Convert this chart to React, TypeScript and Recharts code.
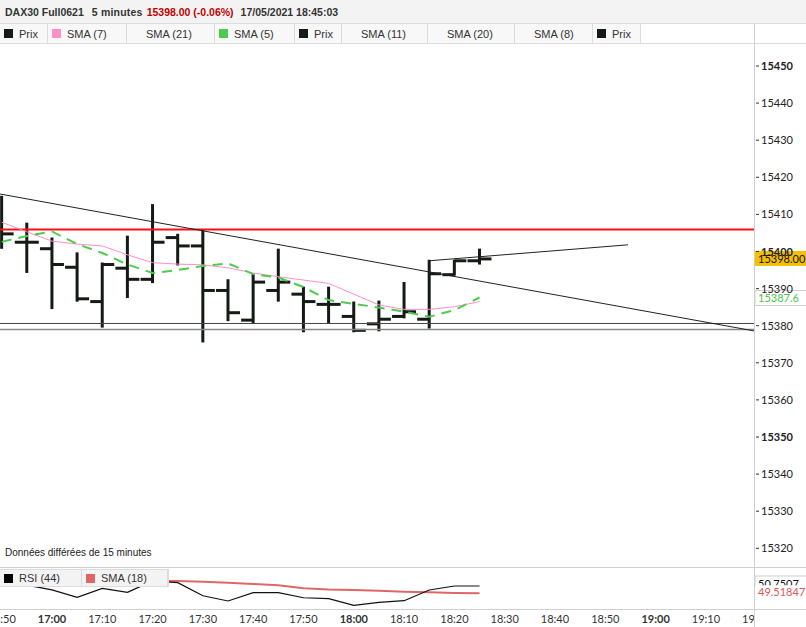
import React from 'react';
import { ComposedChart, Bar, Line, XAxis, YAxis, ReferenceLine } from 'recharts';

// 5-minute bars, DAX30 Full0621
const barTimes = ['16:50', '16:55', '17:00', '17:05', '17:10', '17:15', '17:20', '17:25', '17:30', '17:35', '17:40', '17:45', '17:50', '17:55', '18:00', '18:05', '18:10', '18:15', '18:20', '18:25'];
const opens = [15406, 15402.5, 15400.75, 15395.75, 15386.5, 15395.5, 15392.5, 15403.75, 15401.5, 15389.5, 15381.5, 15389.5, 15388.5, 15385.75, 15382.5, 15380.5, 15382.5, 15381.75, 15393.75, 15397.5];
const highs = [15414.75, 15407.5, 15403.5, 15399.5, 15396.75, 15404, 15412.5, 15404.5, 15405.75, 15392.25, 15393.75, 15400.5, 15390.25, 15390.25, 15386.25, 15386.5, 15391.5, 15397.5, 15397.5, 15400.5];
const lows = [15401, 15394.5, 15384.75, 15386.75, 15379.75, 15387.75, 15391.75, 15396.5, 15375.75, 15381.5, 15380.75, 15386.75, 15378.5, 15380.75, 15378.5, 15378.75, 15382.25, 15379.5, 15393.75, 15396.75];
const closes = [15404.75, 15402.5, 15396.5, 15387.25, 15396.5, 15392.5, 15402.5, 15401.5, 15389.5, 15383.5, 15391.75, 15391.75, 15386.5, 15385.75, 15378.75, 15381.75, 15383.75, 15394, 15397.5, 15398];
const sma7 = [15407.9, 15405.3, 15402.8, 15402.0, 15401.5, 15399.1, 15397.0, 15396.6, 15396.4, 15395.6, 15394.2, 15393.2, 15392.3, 15391.4, 15388.5, 15385.6, 15384.4, 15384.4, 15385.1, 15386.5];
const sma5 = [15402.6, 15404.2, 15405.4, 15402.0, 15399.6, 15396.5, 15394.2, 15395.0, 15396.1, 15396.8, 15393.9, 15393.0, 15390.4, 15386.9, 15385.9, 15384.9, 15383.8, 15382.4, 15384.2, 15387.6];
const rsi44 = [50.9, 50.9, 50.1, 48.84, 50.36, 49.69, 51.6, 51.31, 49.11, 48.22, 49.62, 49.62, 48.77, 48.61, 47.49, 48.0, 48.27, 50.08, 50.75, 50.7507];
const rsiSma18 = [51.72, 51.71, 51.7, 51.69, 51.68, 51.67, 51.65, 51.6, 51.48, 51.31, 51.09, 50.87, 50.36, 50.16, 50.08, 49.96, 49.79, 49.69, 49.57, 49.51847];

const priceTicks = [15320, 15330, 15340, 15350, 15360, 15370, 15380, 15390, 15400, 15410, 15420, 15430, 15440, 15450];
const timeTicks = ['16:50', '17:00', '17:10', '17:20', '17:30', '17:40', '17:50', '18:00', '18:10', '18:20', '18:30', '18:40', '18:50', '19:00', '19:10', '19:20'];

// drawn objects (time, price)
const redLevel = 15405.9;
const supportLevels = [15380.6, 15379.0];
const downTrend = [{ t: '16:49.66', p: 15415.5 }, { t: '19:19.56', p: 15378.6 }];
const upTrend = [{ t: '18:15', p: 15397.5 }, { t: '18:54.5', p: 15401.8 }];

const lastPrice = 15398.0;
const lastSma5 = 15387.6;
const lastRsi = 50.7507;
const lastRsiSma = 49.51847;

const toMin = (s: string) => {
  const [h, m] = s.split(':').map(Number);
  return (h - 16) * 60 + m;
};
const fmtTime = (v: number) => {
  const h = 16 + Math.floor(v / 60);
  const m = Math.round(v % 60);
  return `${h}:${m < 10 ? '0' : ''}${m}`;
};

const xDomain = [toMin('16:49.66'), toMin('19:19.56')];
const priceDomain = [15314.69, 15455.93];
const rsiDomain = [46.87, 53.79];

const data = barTimes.map((t, i) => ({
  t: toMin(t),
  o: opens[i],
  h: highs[i],
  l: lows[i],
  c: closes[i],
  sma7: sma7[i],
  sma5: sma5[i],
  rsi: rsi44[i],
  rsiSma: rsiSma18[i],
}));

const AXIS_FONT = 'Lato, "DejaVu Sans", sans-serif';
const UI_FONT = '"Liberation Sans", Arial, sans-serif';
const BAR_COLOR = '#141a14';

const OhlcShape = (props: any) => {
  const { x, y, width, height, payload } = props;
  if (x == null || y == null) return null;
  const top = Math.min(y, y + height);
  const bottom = Math.max(y, y + height);
  const cx = x + width / 2;
  const { h, l, o, c } = payload;
  const py = (v: number) => (h === l ? top : top + ((bottom - top) * (h - v)) / (h - l));
  return (
    <g stroke={BAR_COLOR} strokeWidth={3}>
      <line x1={cx} x2={cx} y1={top - 1} y2={bottom + 1} />
      <line x1={cx - 12} x2={cx} y1={py(o)} y2={py(o)} />
      <line x1={cx} x2={cx + 12} y1={py(c)} y2={py(c)} />
    </g>
  );
};

const PriceTick = (props: any) => {
  const { x, y, payload } = props;
  const bold = payload.value % 50 === 0;
  return (
    <g>
      <line x1={x + 2} x2={x + 5} y1={y} y2={y} stroke="#333" />
      <text x={x + 7} y={y} dy={4} fontSize={11} fontFamily={AXIS_FONT} fontWeight={bold ? 700 : 400} fill="#222">
        {payload.value}
      </text>
    </g>
  );
};

const TimeTick = (props: any) => {
  const { x, y, payload } = props;
  const label = fmtTime(payload.value);
  const bold = label.endsWith(':00');
  const id = `tclip-${payload.value}`;
  return (
    <g>
      <clipPath id={id}>
        <rect x={0} y={y} width={754} height={20} />
      </clipPath>
      <text x={x} y={y} dy={14} textAnchor="middle" fontSize={11} fontFamily={AXIS_FONT} fontWeight={bold ? 700 : 400} fill="#333" clipPath={`url(#${id})`}>
        {label}
      </text>
    </g>
  );
};

const tag = (text: string, bg: string, color: string, boxDy: number, textDy: number, border?: string) => (props: any) => {
  const vb = props.viewBox || {};
  const left = vb.x + vb.width + 1;
  return (
    <g>
      <rect x={left} y={vb.y + boxDy} width={52} height={15} fill={bg} stroke={border || 'none'} />
      <text x={left + 3} y={vb.y + textDy} fontSize={11} fontFamily={AXIS_FONT} fill={color}>
        {text}
      </text>
    </g>
  );
};

const legendItems = [
  { label: 'Prix', color: BAR_COLOR, w: 48 },
  { label: 'SMA (7)', color: '#ff8fc8', w: 79 },
  { label: 'SMA (21)', color: null, w: 88 },
  { label: 'SMA (5)', color: '#4ccc4c', w: 80 },
  { label: 'Prix', color: BAR_COLOR, w: 47 },
  { label: 'SMA (11)', color: null, w: 86 },
  { label: 'SMA (20)', color: null, w: 87 },
  { label: 'SMA (8)', color: null, w: 78 },
  { label: 'Prix', color: BAR_COLOR, w: 48 },
];

const rsiLegend = [
  { label: 'RSI (44)', color: '#000', w: 82 },
  { label: 'SMA (18)', color: '#e06666', w: 86 },
];

const Cell = ({ label, color, w, bg }: any) => (
  <div style={{ width: w, height: '100%', boxSizing: 'border-box', borderRight: '1px solid #dcdcdc', display: 'flex', alignItems: 'center', paddingLeft: 4, background: bg }}>
    <span style={{ display: 'inline-block', width: 9, height: 9, background: color || 'transparent', marginRight: 6 }} />
    <span>{label}</span>
  </div>
);

export default function App() {
  return (
    <div style={{ position: 'absolute', left: 0, top: 0, width: 806, height: 627, background: '#fff', overflow: 'hidden', fontFamily: UI_FONT }}>
      {/* header */}
      <div style={{ position: 'absolute', left: 0, top: 0, width: 806, height: 24, background: '#f3f3f3', borderBottom: '1px solid #dcdcdc', boxSizing: 'border-box', fontSize: 10.5, fontWeight: 700, color: '#333', display: 'flex', alignItems: 'center', paddingLeft: 5, whiteSpace: 'pre' }}>
        <span>DAX30 Full0621</span>
        <span style={{ marginLeft: 8, letterSpacing: 0.2 }}>5 minutes</span>
        <span style={{ marginLeft: 4, color: '#c00000' }}>15398.00 (-0.06%)</span>
        <span style={{ marginLeft: 7 }}>17/05/2021 18:45:03</span>
      </div>
      {/* legend row */}
      <div style={{ position: 'absolute', left: 0, top: 24, width: 806, height: 20, borderBottom: '1px solid #dcdcdc', boxSizing: 'border-box', display: 'flex', fontSize: 11, color: '#333' }}>
        {legendItems.map((it, i) => (
          <Cell key={i} {...it} bg="#f8f8f8" />
        ))}
      </div>

      {/* price panel */}
      <div style={{ position: 'absolute', left: 0, top: 44, width: 806, height: 524 }}>
        <ComposedChart width={806} height={524} data={data} margin={{ top: 0, right: 0, bottom: 0, left: 0 }}>
          <XAxis type="number" dataKey="t" domain={xDomain} allowDataOverflow hide />
          <YAxis
            orientation="right"
            width={52}
            domain={priceDomain}
            allowDataOverflow
            ticks={priceTicks}
            interval={0}
            axisLine={false}
            tickLine={false}
            tickSize={0}
            tickMargin={0}
            tick={<PriceTick />}
          />
          <ReferenceLine y={redLevel} stroke="#ff1010" strokeWidth={2} />
          <ReferenceLine y={supportLevels[0]} stroke="#444" strokeWidth={1} />
          <ReferenceLine y={supportLevels[1]} stroke="#888" strokeWidth={1.5} />
          <ReferenceLine segment={downTrend.map((d) => ({ x: toMin(d.t), y: d.p }))} stroke="#222" strokeWidth={1} />
          <ReferenceLine segment={upTrend.map((d) => ({ x: toMin(d.t), y: d.p }))} stroke="#222" strokeWidth={1} />
          <Line type="linear" dataKey="sma7" stroke="#ff8fc8" strokeWidth={1} dot={false} isAnimationActive={false} />
          <Line type="linear" dataKey="sma5" stroke="#4ccc4c" strokeWidth={2} strokeDasharray="10 7" dot={false} isAnimationActive={false} />
          <Bar dataKey={(d: any) => [d.l, d.h]} barSize={3} shape={(p: any) => <OhlcShape {...p} />} isAnimationActive={false} />
          <ReferenceLine y={lastSma5} stroke="none" label={tag('15387.6', '#fff', '#4cc44c', -7, 4, '#cfcfcf')} />
          <ReferenceLine y={lastPrice} stroke="none" label={tag('15398.00', '#f5c000', '#111', -8, 4)} />
        </ComposedChart>
      </div>

      <div style={{ position: 'absolute', left: 5, top: 547, fontSize: 10, color: '#222' }}>Données différées de 15 minutes</div>

      {/* RSI panel */}
      <div style={{ position: 'absolute', left: 0, top: 567, width: 806, height: 1, background: '#cfcfcf' }} />
      <div style={{ position: 'absolute', left: 0, top: 568, width: 806, height: 59 }}>
        <ComposedChart width={806} height={59} data={data} margin={{ top: 0, right: 0, bottom: 0, left: 0 }}>
          <XAxis
            type="number"
            dataKey="t"
            domain={xDomain}
            allowDataOverflow
            ticks={timeTicks.map(toMin)}
            interval={0}
            height={18}
            axisLine={false}
            tickLine={false}
            tickSize={0}
            tickMargin={0}
            tick={<TimeTick />}
          />
          <YAxis orientation="right" width={52} domain={rsiDomain} allowDataOverflow tick={false} axisLine={false} tickLine={false} />
          <Line type="linear" dataKey="rsiSma" stroke="#e06666" strokeWidth={2} dot={false} isAnimationActive={false} />
          <Line type="linear" dataKey="rsi" stroke="#111" strokeWidth={1.2} dot={false} isAnimationActive={false} />
          <ReferenceLine y={lastRsi} stroke="none" label={tag('50.7507', '#fff', '#111', -10, 2, '#cfcfcf')} />
          <ReferenceLine y={lastRsiSma} stroke="none" label={tag('49.51847', '#fff', '#e05555', -8, 2.5)} />
        </ComposedChart>
      </div>
      <div style={{ position: 'absolute', left: 0, top: 569, height: 18, display: 'flex', fontSize: 11, color: '#333', border: '1px solid #dcdcdc', borderLeft: 'none', boxSizing: 'border-box' }}>
        {rsiLegend.map((it, i) => (
          <Cell key={i} {...it} bg="#f3f3f3" />
        ))}
      </div>
      <div style={{ position: 'absolute', left: 0, top: 609, width: 806, height: 1, background: '#cfcfcf' }} />

      {/* axis divider */}
      <div style={{ position: 'absolute', left: 754, top: 24, width: 1, height: 603, background: '#cfcfcf' }} />
    </div>
  );
}
